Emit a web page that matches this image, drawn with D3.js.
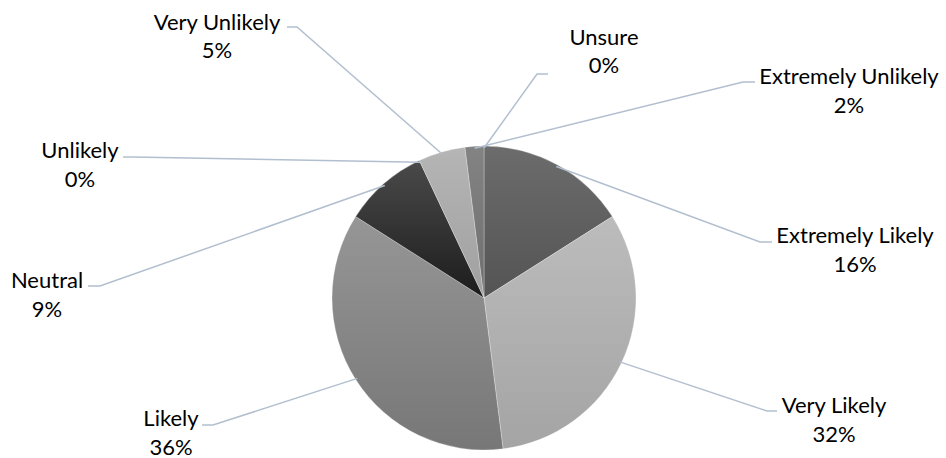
<!DOCTYPE html>
<html>
<head>
<meta charset="utf-8">
<script src="https://cdn.jsdelivr.net/npm/d3@7/dist/d3.min.js"></script>
<style>
  html, body { margin: 0; padding: 0; background: #ffffff; }
  svg { display: block; }
  text { font-family: Lato, "Open Sans", sans-serif; font-size: 22px; fill: #000; }
</style>
</head>
<body>
<svg id="chart" width="946" height="458"></svg>
<script>
// Survey answers, share of respondents (%)
const categories = ["Extremely Likely", "Very Likely", "Likely", "Neutral", "Unlikely", "Very Unlikely", "Extremely Unlikely", "Unsure"];
const shares = [16, 32, 36, 9, 0, 5, 2, 0];

// Slice fills: top and bottom stop of each vertical gradient
const fillTop    = ["#6c6c6c", "#bcbcbc", "#969696", "#4a4a4a", "#8c8c8c", "#b5b5b5", "#838383", "#888888"];
const fillBottom = ["#545454", "#a4a4a4", "#777777", "#1c1c1c", "#7a7a7a", "#a0a0a0", "#6e6e6e", "#777777"];

// Label placement: centre x and first-line middle y of each two-line label
const labelPos = [[855, 235], [834, 405], [171, 418], [47, 280], [80, 150], [217, 21.5], [849, 76], [604, 36.5]];
// Leader elbow (x, y) and the x where the short horizontal stub ends
const leaderElbow = [[760, 242, 772], [767, 411, 777], [213, 425, 202], [100, 286, 88], [133, 157, 123], [297, 27, 287], [743, 82, 755], [537, 74, 548]];

const svg = d3.select("#chart");
const cx = 484, cy = 298, radius = 152;
const lineGap = 28.5, capHalf = 8;

const pie = d3.pie().sort(null).value(d => d).startAngle(0).endAngle(2 * Math.PI);
const arcs = pie(shares);
const arc = d3.arc().innerRadius(0).outerRadius(radius);
const edgeArc = d3.arc().innerRadius(radius - 2).outerRadius(radius - 2);

const defs = svg.append("defs");
arcs.forEach((a, i) => {
  const g = defs.append("linearGradient")
    .attr("id", "slice" + i)
    .attr("x1", 0).attr("y1", 0).attr("x2", 0).attr("y2", 1);
  g.append("stop").attr("offset", "0%").attr("stop-color", fillTop[i]);
  g.append("stop").attr("offset", "100%").attr("stop-color", fillBottom[i]);
});

const pieG = svg.append("g").attr("transform", `translate(${cx},${cy})`);

// Leader lines sit underneath the slices, starting at the slice's outer edge
const leaders = svg.append("g")
  .attr("fill", "none")
  .attr("stroke", "#b2bfcf")
  .attr("stroke-width", 1.5);

arcs.forEach((a, i) => {
  const [sx, sy] = edgeArc.centroid(a);
  const [ex, ey, tx] = leaderElbow[i];
  leaders.append("polyline")
    .attr("points", [[cx + sx, cy + sy], [ex, ey], [tx, ey]].map(p => p.join(",")).join(" "));
});

pieG.selectAll("path.slice")
  .data(arcs.filter(a => a.value > 0))
  .join("path")
  .attr("class", "slice")
  .attr("d", arc)
  .attr("fill", a => `url(#slice${a.index})`)
  .attr("stroke", "rgba(255,255,255,0.35)")
  .attr("stroke-width", 0.8);

// Two-line data labels: category name and percentage
const labels = svg.append("g");
arcs.forEach((a, i) => {
  const [lx, ly] = labelPos[i];
  const t = labels.append("text").attr("text-anchor", "middle");
  t.append("tspan").attr("x", lx).attr("y", ly + capHalf).text(categories[i]);
  t.append("tspan").attr("x", lx).attr("y", ly + capHalf + lineGap).text(shares[i] + "%");
});
</script>
</body>
</html>
